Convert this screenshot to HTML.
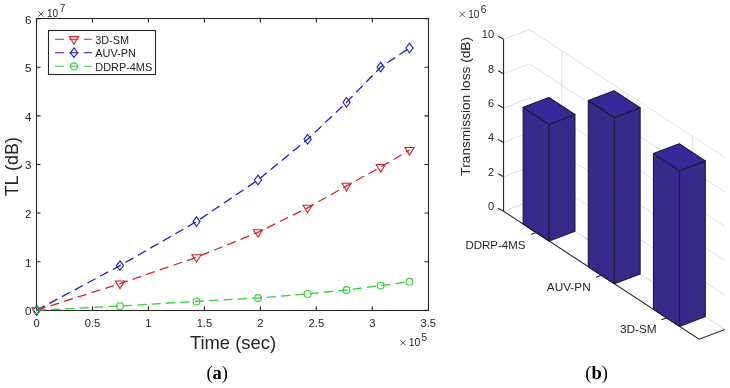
<!DOCTYPE html>
<html><head><meta charset="utf-8"><style>html,body{margin:0;padding:0;background:#fff;}svg{display:block;will-change:transform}</style></head>
<body><svg width="730" height="388" viewBox="0 0 730 388">
<rect width="730" height="388" fill="#fff"/>
<rect x="36.5" y="18.5" width="392.0" height="292.0" fill="none" stroke="#262626" stroke-width="1.1"/>
<path d="M36.50 310.5v-4M36.50 18.5v4M92.47 310.5v-4M92.47 18.5v4M148.44 310.5v-4M148.44 18.5v4M204.41 310.5v-4M204.41 18.5v4M260.39 310.5v-4M260.39 18.5v4M316.36 310.5v-4M316.36 18.5v4M372.33 310.5v-4M372.33 18.5v4M36.5 310.30h4M428.5 310.30h-4M36.5 261.68h4M428.5 261.68h-4M36.5 213.07h4M428.5 213.07h-4M36.5 164.45h4M428.5 164.45h-4M36.5 115.83h4M428.5 115.83h-4M36.5 67.22h4M428.5 67.22h-4M36.5 18.60h4M428.5 18.60h-4" stroke="#262626" stroke-width="1.1" fill="none"/>
<text x="36.50" y="327.2" font-family="Liberation Sans, sans-serif" font-size="11.2" fill="#262626" text-anchor="middle">0</text>
<text x="92.47" y="327.2" font-family="Liberation Sans, sans-serif" font-size="11.2" fill="#262626" text-anchor="middle">0.5</text>
<text x="148.44" y="327.2" font-family="Liberation Sans, sans-serif" font-size="11.2" fill="#262626" text-anchor="middle">1</text>
<text x="204.41" y="327.2" font-family="Liberation Sans, sans-serif" font-size="11.2" fill="#262626" text-anchor="middle">1.5</text>
<text x="260.39" y="327.2" font-family="Liberation Sans, sans-serif" font-size="11.2" fill="#262626" text-anchor="middle">2</text>
<text x="316.36" y="327.2" font-family="Liberation Sans, sans-serif" font-size="11.2" fill="#262626" text-anchor="middle">2.5</text>
<text x="372.33" y="327.2" font-family="Liberation Sans, sans-serif" font-size="11.2" fill="#262626" text-anchor="middle">3</text>
<text x="428.30" y="327.2" font-family="Liberation Sans, sans-serif" font-size="11.2" fill="#262626" text-anchor="middle">3.5</text>
<text x="31.5" y="315.30" font-family="Liberation Sans, sans-serif" font-size="11.6" fill="#262626" text-anchor="end">0</text>
<text x="31.5" y="266.68" font-family="Liberation Sans, sans-serif" font-size="11.6" fill="#262626" text-anchor="end">1</text>
<text x="31.5" y="218.07" font-family="Liberation Sans, sans-serif" font-size="11.6" fill="#262626" text-anchor="end">2</text>
<text x="31.5" y="169.45" font-family="Liberation Sans, sans-serif" font-size="11.6" fill="#262626" text-anchor="end">3</text>
<text x="31.5" y="120.83" font-family="Liberation Sans, sans-serif" font-size="11.6" fill="#262626" text-anchor="end">4</text>
<text x="31.5" y="72.22" font-family="Liberation Sans, sans-serif" font-size="11.6" fill="#262626" text-anchor="end">5</text>
<text x="31.5" y="23.60" font-family="Liberation Sans, sans-serif" font-size="11.6" fill="#262626" text-anchor="end">6</text>
<path d="M38.4 11.4L43.6 16.6M43.6 11.4L38.4 16.6" stroke="#262626" stroke-width="0.75"/>
<text x="47" y="16.8" font-family="Liberation Sans, sans-serif" font-size="10" fill="#262626">10</text>
<text x="59.8" y="12" font-family="Liberation Sans, sans-serif" font-size="10" fill="#262626">7</text>
<path d="M400.4 340.2L405.6 345.4M405.6 340.2L400.4 345.4" stroke="#262626" stroke-width="0.75"/>
<text x="408.7" y="346" font-family="Liberation Sans, sans-serif" font-size="10.4" fill="#262626">10</text>
<text x="421.5" y="341" font-family="Liberation Sans, sans-serif" font-size="10" fill="#262626">5</text>
<text x="233" y="348.8" font-family="Liberation Sans, sans-serif" font-size="18.4" fill="#262626" text-anchor="middle">Time (sec)</text>
<text transform="translate(18.3 166.7) rotate(-90)" x="0" y="0" font-family="Liberation Sans, sans-serif" font-size="18" fill="#262626" text-anchor="middle">TL (dB)</text>
<polyline points="36.60,310.20 120.00,283.60 196.50,257.30 258.00,232.30 307.60,207.80 346.60,185.90 380.70,167.10 409.50,150.10" fill="none" stroke="#d4222e" stroke-width="1.3" stroke-dasharray="9.2 5.2"/>
<polyline points="36.60,310.20 120.00,265.60 196.50,221.60 258.00,180.00 307.60,139.30 346.60,102.30 380.70,67.10 409.50,48.00" fill="none" stroke="#1e1eba" stroke-width="1.3" stroke-dasharray="9.2 5.2"/>
<polyline points="36.60,310.20 120.00,306.10 196.50,301.40 258.00,298.00 307.60,293.90 346.60,290.00 380.70,285.60 409.50,281.80" fill="none" stroke="#2cd42c" stroke-width="1.3" stroke-dasharray="9.2 5.2"/>
<path d="M32.00 307.60H41.20L36.60 315.20ZM115.40 281.00H124.60L120.00 288.60ZM191.90 254.70H201.10L196.50 262.30ZM253.40 229.70H262.60L258.00 237.30ZM303.00 205.20H312.20L307.60 212.80ZM342.00 183.30H351.20L346.60 190.90ZM376.10 164.50H385.30L380.70 172.10ZM404.90 147.50H414.10L409.50 155.10Z" fill="none" stroke="#d4222e" stroke-width="1.1" stroke-linejoin="miter"/>
<path d="M36.60 305.40L40.20 310.20L36.60 315.00L33.00 310.20ZM120.00 260.80L123.60 265.60L120.00 270.40L116.40 265.60ZM196.50 216.80L200.10 221.60L196.50 226.40L192.90 221.60ZM258.00 175.20L261.60 180.00L258.00 184.80L254.40 180.00ZM307.60 134.50L311.20 139.30L307.60 144.10L304.00 139.30ZM346.60 97.50L350.20 102.30L346.60 107.10L343.00 102.30ZM380.70 62.30L384.30 67.10L380.70 71.90L377.10 67.10ZM409.50 43.20L413.10 48.00L409.50 52.80L405.90 48.00Z" fill="none" stroke="#1e1eba" stroke-width="1.1"/>
<circle cx="36.60" cy="310.20" r="3.4" fill="none" stroke="#2cd42c" stroke-width="1.1"/>
<circle cx="120.00" cy="306.10" r="3.4" fill="none" stroke="#2cd42c" stroke-width="1.1"/>
<circle cx="196.50" cy="301.40" r="3.4" fill="none" stroke="#2cd42c" stroke-width="1.1"/>
<circle cx="258.00" cy="298.00" r="3.4" fill="none" stroke="#2cd42c" stroke-width="1.1"/>
<circle cx="307.60" cy="293.90" r="3.4" fill="none" stroke="#2cd42c" stroke-width="1.1"/>
<circle cx="346.60" cy="290.00" r="3.4" fill="none" stroke="#2cd42c" stroke-width="1.1"/>
<circle cx="380.70" cy="285.60" r="3.4" fill="none" stroke="#2cd42c" stroke-width="1.1"/>
<circle cx="409.50" cy="281.80" r="3.4" fill="none" stroke="#2cd42c" stroke-width="1.1"/>
<rect x="48.5" y="30.5" width="107" height="44" fill="#fff" stroke="#262626" stroke-width="1.1"/>
<path d="M55 39.2H92" stroke="#d4222e" stroke-width="1.1" stroke-dasharray="9.2 5.2"/>
<path d="M69.40 36.60H78.60L74.00 44.20Z" fill="none" stroke="#d4222e" stroke-width="1.1"/>
<text x="95.3" y="43.50" font-family="Liberation Sans, sans-serif" font-size="10.9" fill="#262626">3D-SM</text>
<path d="M55 52.7H92" stroke="#1e1eba" stroke-width="1.1" stroke-dasharray="9.2 5.2"/>
<path d="M74.00 47.90L77.60 52.70L74.00 57.50L70.40 52.70Z" fill="none" stroke="#1e1eba" stroke-width="1.1"/>
<text x="95.3" y="57.20" font-family="Liberation Sans, sans-serif" font-size="10.9" fill="#262626">AUV-PN</text>
<path d="M55 66.3H92" stroke="#2cd42c" stroke-width="1.1" stroke-dasharray="9.2 5.2"/>
<circle cx="74" cy="66.3" r="3.4" fill="none" stroke="#2cd42c" stroke-width="1.1"/>
<text x="95.3" y="71.10" font-family="Liberation Sans, sans-serif" font-size="10.9" fill="#262626">DDRP-4MS</text>
<text x="217.2" y="379" font-family="Liberation Serif, serif" font-weight="bold" font-size="18.5" fill="#000" text-anchor="middle"><tspan font-weight="normal">(</tspan>a<tspan font-weight="normal">)</tspan></text>
<path d="M503.56 211.20L529.34 201.40L724.85 329.41M503.56 176.82L529.34 167.02L724.85 295.03M503.56 142.44L529.34 132.64L724.85 260.65M503.56 108.06L529.34 98.26L724.85 226.27M503.56 73.68L529.34 63.88L724.85 191.89M503.56 39.30L529.34 29.50L724.85 157.51M561.93 222.73L561.93 50.83M627.10 265.40L627.10 93.50M692.27 308.07L692.27 136.17M536.14 232.53L561.93 222.73M601.32 275.20L627.10 265.40M666.49 317.88L692.27 308.07M503.56 211.20L529.34 201.40L724.85 329.41" stroke="#dcdcdc" stroke-width="0.9" fill="none"/>
<path d="M503.56 39.30L503.56 211.20L699.07 339.21L724.85 329.41" stroke="#262626" stroke-width="1.1" fill="none"/>
<path d="M503.56 211.20l-5.4 -3M503.56 176.82l-5.4 -3M503.56 142.44l-5.4 -3M503.56 108.06l-5.4 -3M503.56 73.68l-5.4 -3M503.56 39.30l-5.4 -3" stroke="#262626" stroke-width="1.1" fill="none"/>
<text x="494.06" y="210.20" font-family="Liberation Sans, sans-serif" font-size="11" fill="#262626" text-anchor="end">0</text>
<text x="494.06" y="175.82" font-family="Liberation Sans, sans-serif" font-size="11" fill="#262626" text-anchor="end">2</text>
<text x="494.06" y="141.44" font-family="Liberation Sans, sans-serif" font-size="11" fill="#262626" text-anchor="end">4</text>
<text x="494.06" y="107.06" font-family="Liberation Sans, sans-serif" font-size="11" fill="#262626" text-anchor="end">6</text>
<text x="494.06" y="72.68" font-family="Liberation Sans, sans-serif" font-size="11" fill="#262626" text-anchor="end">8</text>
<text x="494.06" y="38.30" font-family="Liberation Sans, sans-serif" font-size="11" fill="#262626" text-anchor="end">10</text>
<path d="M536.14 232.53l-5.1 1.95M601.32 275.20l-5.1 1.95M666.49 317.88l-5.1 1.95" stroke="#262626" stroke-width="1.1" fill="none"/>
<text x="525.50" y="248.70" font-family="Liberation Sans, sans-serif" font-size="11.5" fill="#262626" text-anchor="end">DDRP-4MS</text>
<text x="590.70" y="291.20" font-family="Liberation Sans, sans-serif" font-size="11.8" fill="#262626" text-anchor="end">AUV-PN</text>
<text x="656.60" y="333.30" font-family="Liberation Sans, sans-serif" font-size="11.8" fill="#262626" text-anchor="end">3D-SM</text>
<text transform="translate(469.6 106.3) rotate(-90)" x="0" y="0" font-family="Liberation Sans, sans-serif" font-size="13.7" fill="#262626" text-anchor="middle">Transmission loss (dB)</text>
<path d="M459.6 11.8L464.8 17M464.8 11.8L459.6 17" stroke="#262626" stroke-width="0.75"/>
<text x="468.3" y="17.5" font-family="Liberation Sans, sans-serif" font-size="10" fill="#262626">10</text>
<text x="480.7" y="13" font-family="Liberation Sans, sans-serif" font-size="10" fill="#262626">6</text>
<path d="M523.11 224.00L549.18 241.07L549.18 124.35L523.11 107.28Z" fill="#36298a" stroke="#1e1a3c" stroke-width="1.1" stroke-linejoin="round"/>
<path d="M549.18 241.07L574.96 231.27L574.96 114.55L549.18 124.35Z" fill="#36298a" stroke="#1e1a3c" stroke-width="1.1" stroke-linejoin="round"/>
<path d="M523.11 107.28L549.18 124.35L574.96 114.55L548.89 97.48Z" fill="#35299a" stroke="#1e1a3c" stroke-width="1.1" stroke-linejoin="round"/>
<path d="M588.28 266.67L614.35 283.74L614.35 117.51L588.28 100.44Z" fill="#36298a" stroke="#1e1a3c" stroke-width="1.1" stroke-linejoin="round"/>
<path d="M614.35 283.74L640.13 273.94L640.13 107.71L614.35 117.51Z" fill="#36298a" stroke="#1e1a3c" stroke-width="1.1" stroke-linejoin="round"/>
<path d="M588.28 100.44L614.35 117.51L640.13 107.71L614.06 90.64Z" fill="#35299a" stroke="#1e1a3c" stroke-width="1.1" stroke-linejoin="round"/>
<path d="M653.45 309.34L679.52 326.41L679.52 170.67L653.45 153.60Z" fill="#36298a" stroke="#1e1a3c" stroke-width="1.1" stroke-linejoin="round"/>
<path d="M679.52 326.41L705.30 316.61L705.30 160.87L679.52 170.67Z" fill="#36298a" stroke="#1e1a3c" stroke-width="1.1" stroke-linejoin="round"/>
<path d="M653.45 153.60L679.52 170.67L705.30 160.87L679.23 143.80Z" fill="#35299a" stroke="#1e1a3c" stroke-width="1.1" stroke-linejoin="round"/>
<text x="596.6" y="379" font-family="Liberation Serif, serif" font-weight="bold" font-size="18.5" fill="#000" text-anchor="middle"><tspan font-weight="normal">(</tspan>b<tspan font-weight="normal">)</tspan></text>
</svg></body></html>
